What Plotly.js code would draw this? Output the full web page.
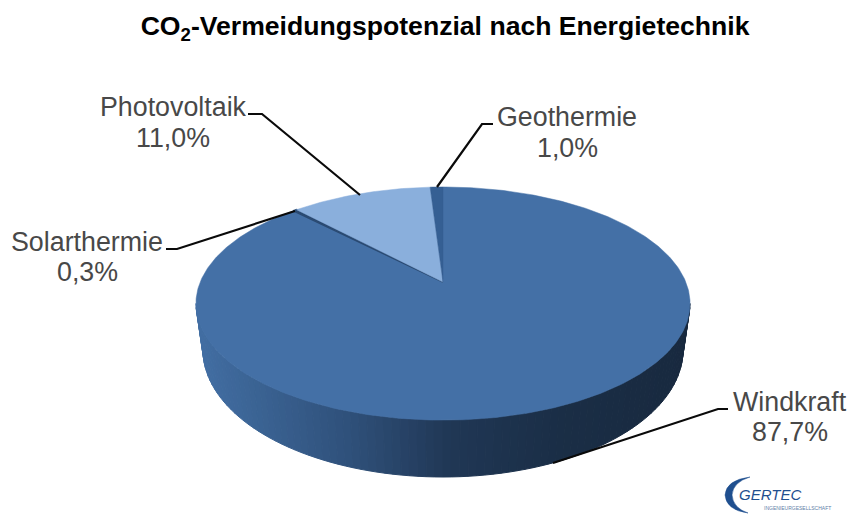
<!DOCTYPE html>
<html><head><meta charset="utf-8">
<script src="https://cdn.plot.ly/plotly-3.0.1.min.js"></script>
<style>html,body{margin:0;padding:0;background:#fff}</style></head>
<body><div id="chart" style="width:851px;height:516px"></div>
<script>
const categories = ["Windkraft","Solarthermie","Photovoltaik","Geothermie"];
const shares = [87.7,0.3,11.0,1.0];
const shareLabels = ["87,7%","0,3%","11,0%","1,0%"];
const sliceColors = ["#4470a6","#2a4a72","#8aafdc","#355f93"];

const apex = {x:443,y:282}, A = 242.8, B = 112.6, q = 0.185;
const rim = {cx:443, cy:350, rx:240, ry:127};
const topEll = {cx:443, cy:303.5, rx:247, ry:116.5};
function project(t){const u=Math.sin(t),v=Math.cos(t),d=1+q*v;return [apex.x+A*u/d,apex.y-B*v/d];}

const traces = [];
// side wall
const sideStops = [[197,[66,110,163]],[260,[58,98,146]],[350,[47,80,122]],[450,[32,55,85]],[560,[26,46,70]],[690,[24,41,63]]];
function sideColor(x){
  for(let i=1;i<sideStops.length;i++){
    if(x<=sideStops[i][0]){
      const a=sideStops[i-1],b=sideStops[i],f=Math.max(0,(x-a[0])/(b[0]-a[0]));
      return 'rgb('+a[1].map((c,k)=>Math.round(c+(b[1][k]-c)*f)).join(',')+')';
    }
  }
  return 'rgb(24,41,63)';
}
const N = 90;
for(let i=0;i<N;i++){
  const p0=Math.PI*i/N, p1=Math.PI*(i+1)/N;
  const xs=[topEll.cx-topEll.rx*Math.cos(p0),topEll.cx-topEll.rx*Math.cos(p1),rim.cx-rim.rx*Math.cos(p1),rim.cx-rim.rx*Math.cos(p0)];
  const ys=[topEll.cy+topEll.ry*Math.sin(p0),topEll.cy+topEll.ry*Math.sin(p1),rim.cy+rim.ry*Math.sin(p1),rim.cy+rim.ry*Math.sin(p0)];
  const c=sideColor((xs[0]+xs[1])/2);
  traces.push({type:'scatter',mode:'lines',x:xs.concat(xs[0]),y:ys.concat(ys[0]),fill:'toself',fillcolor:c,line:{color:c,width:1},hoverinfo:'skip',showlegend:false});
}
// top face, slices clockwise from 12 o'clock
const total = shares.reduce((a,b)=>a+b,0);
let acc = 0;
categories.forEach((name,i)=>{
  const t0=acc/total*2*Math.PI; acc+=shares[i]; const t1=acc/total*2*Math.PI;
  const n=Math.max(2,Math.ceil((t1-t0)*80));
  const xs=[apex.x], ys=[apex.y];
  for(let k=0;k<=n;k++){const p=project(t0+(t1-t0)*k/n);xs.push(p[0]);ys.push(p[1]);}
  xs.push(apex.x);ys.push(apex.y);
  traces.push({type:'scatter',mode:'lines',x:xs,y:ys,fill:'toself',fillcolor:sliceColors[i],
    line:{color:sliceColors[i],width:i===1?1.5:0.5},name:name,text:shareLabels[i],hoverinfo:'name+text',showlegend:false});
});

const labelPos = {Windkraft:[790,402,432],Solarthermie:[87,242,272],Photovoltaik:[173,107,138],Geothermie:[567,117,148]};
const labelFont = {family:'"Liberation Sans",Arial,sans-serif',size:26.8,color:'#484848'};
const annotations = [];
categories.forEach((c,i)=>{
  [c,shareLabels[i]].forEach((t,j)=>annotations.push({xref:'x',yref:'y',x:labelPos[c][0],y:labelPos[c][j+1],text:t,
    showarrow:false,font:labelFont,align:'center',xanchor:'center',yanchor:'middle'}));
});
annotations.push({xref:'x',yref:'y',x:769.5,y:494.5,text:'<i>GERTEC</i>',showarrow:false,xanchor:'center',yanchor:'middle',
  font:{family:'"Liberation Sans",sans-serif',size:15,color:'#1f4f8f'}});
annotations.push({xref:'x',yref:'y',x:797,y:508,text:'INGENIEURGESELLSCHAFT',showarrow:false,xanchor:'center',yanchor:'middle',
  font:{family:'"Liberation Sans",sans-serif',size:5,color:'#5f7fa8'}});

const leaders = ["M248,114 L262,114 L360,195","M166,249 L177,249 L295,211","M493,124 L482,124 L437,187","M728,409 L718,409 L553,463"];
const shapes = leaders.map(p=>({type:'path',xref:'x',yref:'y',path:p,line:{color:'#0a0a0a',width:2.2}}));
shapes.push({type:'path',xref:'x',yref:'y',path:'M750,477 Q726,480 725,495 Q726,510 748,513 Q733,508 732,495 Q733,482 750,477 Z',fillcolor:'#1f4f8f',line:{color:'#1f4f8f',width:0.5}});

const layout = {
  width:851,height:516,margin:{l:0,r:0,t:0,b:0},paper_bgcolor:'#fff',plot_bgcolor:'#fff',showlegend:false,
  title:{text:'CO<sub>2</sub>-Vermeidungspotenzial nach Energietechnik',x:0.523,xanchor:'center',y:0.95,yanchor:'middle',
    font:{family:'"Liberation Sans",Arial,sans-serif',size:26.6,color:'#000',weight:700}},
  xaxis:{range:[0,851],visible:false,fixedrange:true},
  yaxis:{range:[516,0],visible:false,fixedrange:true},
  annotations:annotations,shapes:shapes
};
Plotly.newPlot('chart',traces,layout,{displayModeBar:false});
</script></body></html>
